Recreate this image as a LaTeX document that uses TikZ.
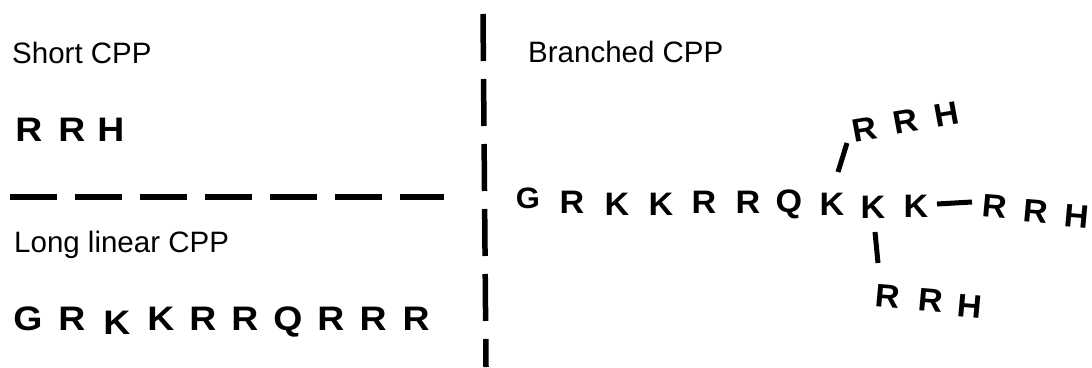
\documentclass[tikz,border=0pt]{standalone}
\usepackage{fontspec}
\setmainfont{Liberation Sans}
\usetikzlibrary{calc}
\tikzset{
  label/.style={anchor=base west, inner sep=0pt, font=\fontsize{29.5}{35}\selectfont},
  aa/.style={anchor=base, inner sep=0pt, xscale=1.1, font=\fontsize{34}{38}\selectfont\bfseries},
  ab/.style={anchor=base, inner sep=0pt, xscale=1.05, font=\fontsize{32.5}{37}\selectfont\bfseries},
  divider/.style={line width=5.5pt, dash pattern=on 47pt off 18pt},
  bond/.style={line width=5pt},
}
\begin{document}
\begin{tikzpicture}[x=1pt, y=-1pt]
  \useasboundingbox[fill=white] (0,0) rectangle (1092,367);

  % section dividers
  \coordinate (h0) at (10,197);
  \coordinate (h1) at (444,197);
  \draw[divider] (h0) -- (h1);
  \coordinate (v0) at (483,14);
  \coordinate (v1) at (486,367);
  \draw[divider] (v0) -- (v1);

  % headings
  \node[label] (tshort) at (12,63) {Short CPP};
  \node[label] (tlong) at (14,252) {Long linear CPP};
  \node[label] (tbranch) at (528,62) {Branched CPP};

  % short peptide
  \node[aa] (s1) at (29,141) {R};
  \node[aa] (s2) at (72,141) {R};
  \node[aa] (s3) at (111,141) {H};

  % long linear peptide
  \node[aa] (l1) at (28,330) {G};
  \node[aa] (l2) at (72,330) {R};
  \node[aa] (l3) at (117,334) {K};
  \node[aa] (l4) at (161,330) {K};
  \node[aa] (l5) at (203,330) {R};
  \node[aa] (l6) at (245,330) {R};
  \node[aa] (l7) at (288,330) {Q};
  \node[aa] (l8) at (331,330) {R};
  \node[aa] (l9) at (373,330) {R};
  \node[aa] (l10) at (416,330) {R};

  % branched peptide: backbone
  \node[ab, font=\fontsize{29.5}{34}\selectfont\bfseries] (b1) at (528,208) {G};
  \node[ab] (b2) at (572,213) {R};
  \node[ab] (b3) at (617,215) {K};
  \node[ab] (b4) at (661,215) {K};
  \node[ab] (b5) at (704,213) {R};
  \node[ab] (b6) at (748,213) {R};
  \node[ab] (b7) at (789,212) {Q};
  \node[ab] (ka) at (832,215) {K};
  \node[ab] (kb) at (873,218) {K};
  \node[ab] (kc) at (916,217) {K};

  % upper branch
  \node[ab, rotate=10] (u1) at (867,140) {R};
  \node[ab, rotate=10] (u2) at (908,132) {R};
  \node[ab, rotate=10] (u3) at (949,125) {H};

  % side branch
  \node[ab, rotate=-5] (r1) at (994,218) {R};
  \node[ab, rotate=-5] (r2) at (1035,223) {R};
  \node[ab, rotate=-5] (r3) at (1076,228) {H};

  % lower branch
  \node[ab, rotate=-5] (d1) at (887,308) {R};
  \node[ab, rotate=-5] (d2) at (930,312) {R};
  \node[ab, rotate=-5] (d3) at (969,318) {H};

  % bonds to the branches
  \draw[bond] ([shift={(6,-43)}]ka.base) -- ([shift={(-20,3)}]u1.base);
  \draw[bond] ([shift={(21,-13)}]kc.base) -- ([shift={(-22,-16)}]r1.base);
  \draw[bond] ([shift={(2,14)}]kb.base) -- ([shift={(-9,-45)}]d1.base);
\end{tikzpicture}
\end{document}
